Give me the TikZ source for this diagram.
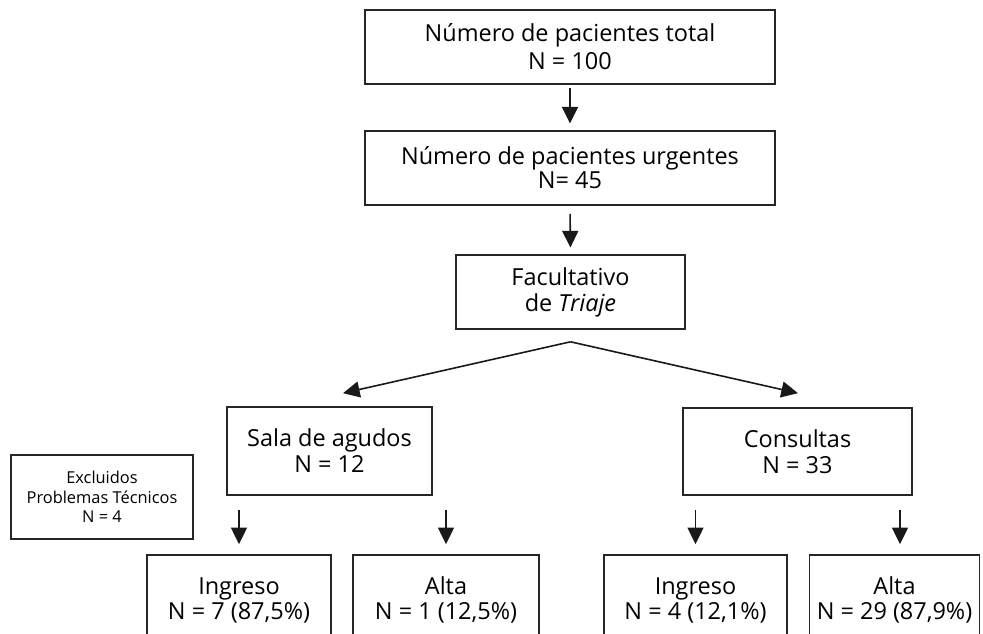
\documentclass[tikz,border=0pt]{standalone}
\usepackage{fontspec}
\setmainfont{Open Sans}
\usetikzlibrary{arrows.meta,calc}
\begin{document}
\begin{tikzpicture}[x=0.75pt,y=-0.75pt,
  box/.style={draw=black!85,line width=1.2pt,inner sep=0pt,align=center},
  big/.style={font=\fontsize{17.6}{19.5}\selectfont},
  bot/.style={font=\fontsize{17.6}{18.75}\selectfont},
  small/.style={font=\fontsize{12.3}{14.6}\selectfont},
  arr/.style={line width=1.2pt,draw=black!90,fill=black!90,-{Triangle[width=12pt,length=12.5pt]}}]
\useasboundingbox (0,0) rectangle (983,634);
\clip (0,0) rectangle (983,634);
\node[box,minimum width=410*0.75pt,minimum height=74*0.75pt,font=\fontsize{17.6}{21}\selectfont] (tot) at (570,47) {Número de pacientes total\\N = 100};
\node[box,minimum width=410*0.75pt,minimum height=74*0.75pt,font=\fontsize{17.6}{18}\selectfont] (urg) at (570,168) {Número de pacientes urgentes\\N= 45};
\node[box,big,minimum width=229*0.75pt,minimum height=74*0.75pt] (fac) at (570.5,292) {Facultativo\\de \textit{Triaje}};
\node[box,big,minimum width=205*0.75pt,minimum height=88*0.75pt] (sala) at (329.5,451) {Sala de agudos\\N = 12};
\node[box,big,minimum width=229*0.75pt,minimum height=87*0.75pt] (cons) at (797.5,451.5) {Consultas\\N = 33};
\node[box,small,minimum width=182*0.75pt,minimum height=84*0.75pt] (excl) at (102,497) {Excluidos\\Problemas Técnicos\\N = 4};
\node[box,bot,minimum width=184*0.75pt,minimum height=90*0.75pt] (ing1) at (239,600) {Ingreso\\N = 7 (87,5\%)};
\node[box,bot,minimum width=186*0.75pt,minimum height=90*0.75pt] (alta1) at (446,600) {Alta\\N = 1 (12,5\%)};
\node[box,bot,minimum width=183*0.75pt,minimum height=90*0.75pt] (ing2) at (695.5,600) {Ingreso\\N = 4 (12,1\%)};
\node[box,bot,minimum width=170*0.75pt,minimum height=90*0.75pt] (alta2) at (894.5,600) {Alta\\N = 29 (87,9\%)};
% connectors
\draw[arr,shorten <=2.25pt,shorten >=5pt] (tot.south) -- (urg.north);
\draw[arr,shorten <=6pt,shorten >=5pt] (urg.south) -- (fac.north);
\coordinate (apex) at ($(fac.south)+(0,12)$);
\coordinate (tipL) at ($(sala.north)+(13.5,-13)$);
\coordinate (tipR) at ($(cons.north)+(0.5,-14)$);
\draw[arr] (apex) -- (tipL);
\draw[arr] (apex) -- (tipR);
\draw[arr,shorten <=10.5pt,shorten >=7.5pt] (ing1.north |- sala.south) -- (ing1.north);
\draw[arr,shorten <=10.5pt,shorten >=7.5pt] (alta1.north |- sala.south) -- (alta1.north);
\draw[arr,shorten <=10.5pt,shorten >=7.5pt] (ing2.north |- cons.south) -- (ing2.north);
\coordinate (a2top) at ($(alta2.north)+(5.5,0)$);
\draw[arr,shorten <=10.5pt,shorten >=7.5pt] (a2top |- cons.south) -- (a2top);
\end{tikzpicture}
\end{document}
